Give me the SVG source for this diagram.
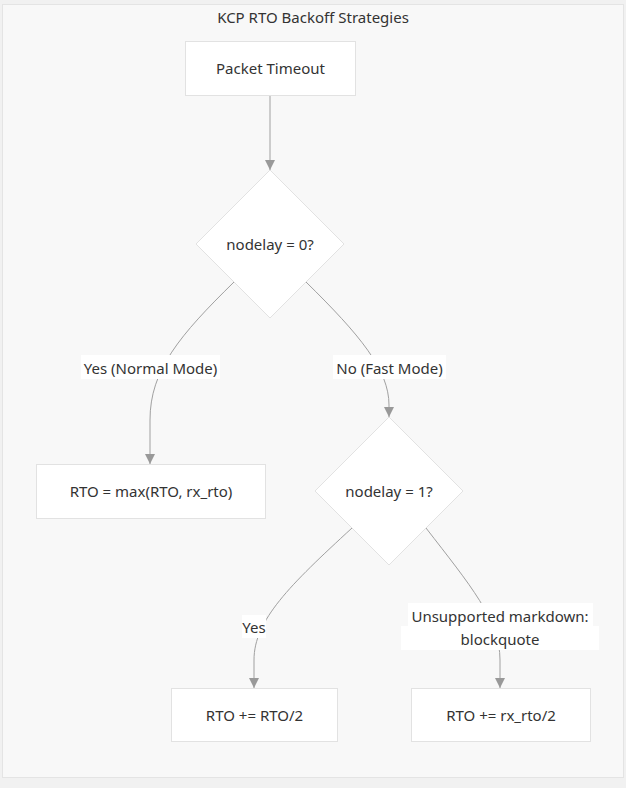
<svg xmlns="http://www.w3.org/2000/svg" width="626" height="788" viewBox="0 0 626 788">
<defs>
<style>
text{font-family:"Noto Sans","Open Sans","DejaVu Sans",sans-serif;font-size:15px;fill:#333;text-anchor:middle;dominant-baseline:central}
.node{fill:#fff;stroke:#e2e2e2;stroke-width:1}
.edge{fill:none;stroke:#a0a0a0;stroke-width:1}
.lbl{fill:#fff}
</style>
<marker id="arr" viewBox="0 0 10 10" refX="10" refY="5" markerWidth="10" markerHeight="10" markerUnits="userSpaceOnUse" orient="auto">
<path d="M0,0 L10,5 L0,10 z" fill="#999"/>
</marker>
</defs>
<rect x="0" y="0" width="626" height="788" fill="#f1f1f1"/>
<g id="cluster">
<rect x="2.5" y="4.5" width="621" height="773" fill="#f8f8f8" stroke="#e4e4e4"/>
<text x="313" y="17">KCP RTO Backoff Strategies</text>
</g>
<g id="connectors">
<path class="edge" d="M270,95 L270,170" marker-end="url(#arr)"/>
<path class="edge" d="M234,282 C180,335 150,370 150,420 L150,464" marker-end="url(#arr)"/>
<path class="edge" d="M306,282 C360,335 389,370 389,405 L389,417" marker-end="url(#arr)"/>
<path class="edge" d="M352,528 C290,585 254,620 254,660 L254,688" marker-end="url(#arr)"/>
<path class="edge" d="M426,528 C470,585 500,620 500,660 L500,688" marker-end="url(#arr)"/>
<g id="edge-labels">
<rect class="lbl" x="81" y="355" width="139" height="24"/>
<text x="150.5" y="367.5">Yes (Normal Mode)</text>
<rect class="lbl" x="333" y="355" width="113" height="24"/>
<text x="389.5" y="367.5">No (Fast Mode)</text>
<rect class="lbl" x="242" y="615" width="24" height="23"/>
<text x="254" y="627">Yes</text>
<rect class="lbl" x="408" y="603" width="185" height="24"/>
<rect class="lbl" x="401" y="626" width="198" height="24"/>
<text x="500" y="615.5">Unsupported markdown:</text>
<text x="500" y="638.5">blockquote</text>
</g>
</g>
<g id="packet-timeout">
<rect class="node" x="185.5" y="41.5" width="170" height="54"/>
<text x="270.5" y="68">Packet Timeout</text>
</g>
<g id="nodelay0">
<polygon class="node" points="270,170 344,244 270,318 196,244"/>
<text x="270" y="244">nodelay = 0?</text>
</g>
<g id="rto-max">
<rect class="node" x="36.5" y="464.5" width="229" height="54"/>
<text x="151" y="491">RTO = max(RTO, rx_rto)</text>
</g>
<g id="nodelay1">
<polygon class="node" points="389,417 463,491 389,565 315,491"/>
<text x="389" y="491">nodelay = 1?</text>
</g>
<g id="rto-half">
<rect class="node" x="171.5" y="688.5" width="166" height="53"/>
<text x="254.5" y="715">RTO += RTO/2</text>
</g>
<g id="rto-rx-half">
<rect class="node" x="411.5" y="688.5" width="179" height="53"/>
<text x="501" y="715">RTO += rx_rto/2</text>
</g>
</svg>
